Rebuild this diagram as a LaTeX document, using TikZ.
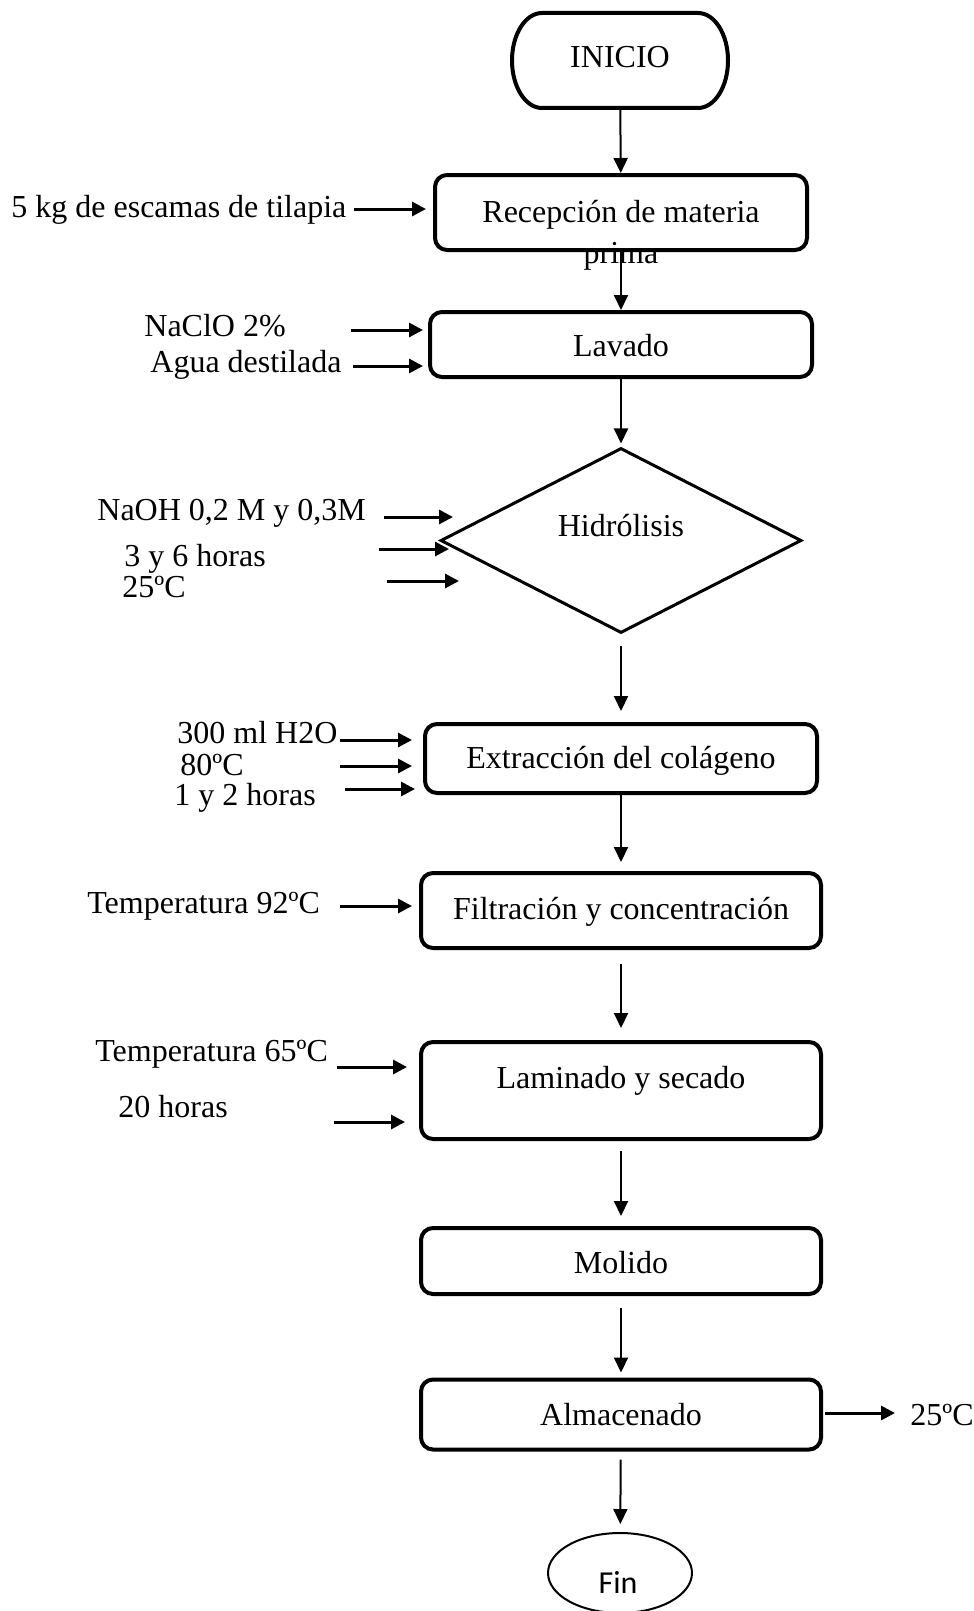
\documentclass[tikz,border=0pt]{standalone}
\usepackage{fontspec}
\setmainfont{Liberation Serif}
\newfontfamily\calib{Carlito}
\usetikzlibrary{arrows.meta,shapes.geometric}
\begin{document}
\begin{tikzpicture}[x=0.5pt,y=-0.5pt,
  txt/.style={inner sep=0pt,font=\fontsize{16}{19}\selectfont},
  lt/.style={txt,anchor=base west},
  ct/.style={txt,anchor=base},
  procbox/.style={draw,line width=2pt,rounded corners=6pt,inner sep=0pt},
  flow/.style={line width=1pt,-{Triangle[length=7.5pt,width=7pt]}},
  side/.style={line width=1.5pt,-{Triangle[length=7pt,width=7pt]}}]
\useasboundingbox (0,0) rectangle (974,1611);
% INICIO terminal
\node[minimum width=108pt,minimum height=47.5pt,inner sep=0pt] (ini) at (620,60.5) {};
\draw[line width=2pt] (542,13) -- (698,13) arc[start angle=90,end angle=-90,x radius=15pt,y radius=23.75pt]
  -- (542,108) arc[start angle=270,end angle=90,x radius=15pt,y radius=23.75pt] -- cycle;
\node[ct] (tini) at (620,68) {INICIO};
% boxes
\node[procbox,minimum width=186pt,minimum height=37.5pt] (rec) at (621,212.5) {};
\node[procbox,minimum width=191pt,minimum height=32.5pt] (lav) at (621,344.5) {};
\node[diamond,draw,line width=1.5pt,minimum width=180.5pt,minimum height=92.5pt,inner sep=0pt] (hid) at (621,540.5) {};
\node[procbox,minimum width=196pt,minimum height=34.5pt] (ext) at (621,758.5) {};
\node[procbox,minimum width=200pt,minimum height=37.5pt] (fil) at (621,910.5) {};
\node[procbox,minimum width=200pt,minimum height=48.5pt] (lam) at (621,1090.5) {};
\node[procbox,minimum width=200pt,minimum height=33pt] (mol) at (621,1261) {};
\node[procbox,minimum width=200pt,minimum height=35pt] (alm) at (621,1414.5) {};
\node[ellipse,draw,line width=1pt,minimum width=72pt,minimum height=40pt,inner sep=0pt] (fin) at (620,1573) {};
% main flow arrows
\draw[flow] (ini) -- (rec);
\draw[flow] (rec) -- (lav);
\draw[flow,shorten >=1.5pt] (lav) -- (hid);
\draw[flow,shorten <=5.5pt,shorten >=5.5pt] (hid) -- (ext);
\draw[flow,shorten >=4.5pt] (ext) -- (fil);
\draw[flow,shorten <=7pt,shorten >=6pt] (fil) -- (lam);
\draw[flow,shorten <=5pt,shorten >=5pt] (lam) -- (mol);
\draw[flow,shorten <=6pt,shorten >=2.5pt] (mol) -- (alm);
\draw[flow,shorten <=4pt,shorten >=4pt] (alm) -- (fin);
% texts in shapes
\node[ct] (trec) at (621,222) {Recepción de materia};
\node[ct] (tpri) at (621,263) {prima};
\node[ct] (tlav) at (621,356) {Lavado};
\node[ct] (thid) at (621,536) {Hidrólisis};
\node[ct] (text) at (621,768) {Extracción del colágeno};
\node[ct] (tfil) at (621,919) {Filtración y concentración};
\node[ct] (tlam) at (621,1088) {Laminado y secado};
\node[ct] (tmol) at (621,1273) {Molido};
\node[ct] (talm) at (621,1425) {Almacenado};
\node[ct,font=\calib\fontsize{16}{19}\selectfont] (tfin) at (618,1593) {Fin};
% side labels
\node[lt] (l1) at (11,217) {5 kg de escamas de tilapia};
\node[lt] (l2) at (144,336) {NaClO 2\%};
\node[lt] (l3) at (150,372) {Agua destilada};
\node[lt] (l4) at (97,520) {NaOH 0,2 M y 0,3M};
\node[lt] (l5) at (124,566) {3 y 6 horas};
\node[lt] (l6) at (122,597) {25ºC};
\node[lt] (l7) at (177,743) {300 ml H2O};
\node[lt] (l8) at (180,775) {80ºC};
\node[lt] (l9) at (174,805) {1 y 2 horas};
\node[lt] (l10) at (87,913) {Temperatura 92ºC};
\node[lt] (l11) at (95,1061) {Temperatura 65ºC};
\node[lt] (l12) at (118,1117) {20 horas};
\node[lt] (l13) at (910,1425) {25ºC};
% side arrow end points
\coordinate (s1) at (354,209);  \coordinate (e1) at (426,209);
\coordinate (s2) at (351,330);  \coordinate (e2) at (423,330);
\coordinate (s3) at (353,366);  \coordinate (e3) at (423,366);
\coordinate (s4) at (384,517);  \coordinate (e4) at (453,517);
\coordinate (s5) at (379,549);  \coordinate (e5) at (449,549);
\coordinate (s6) at (387,581);  \coordinate (e6) at (459,581);
\coordinate (s7) at (340,740);  \coordinate (e7) at (412,740);
\coordinate (s8) at (340,766);  \coordinate (e8) at (412,766);
\coordinate (s9) at (345,789);  \coordinate (e9) at (415,789);
\coordinate (s10) at (340,906); \coordinate (e10) at (412,906);
\coordinate (s11) at (337,1067); \coordinate (e11) at (407,1067);
\coordinate (s12) at (334,1122); \coordinate (e12) at (405,1122);
\coordinate (s13) at (825,1413); \coordinate (e13) at (895,1413);
\foreach \i in {1,...,13} {\draw[side] (s\i) -- (e\i);}
\end{tikzpicture}
\end{document}
